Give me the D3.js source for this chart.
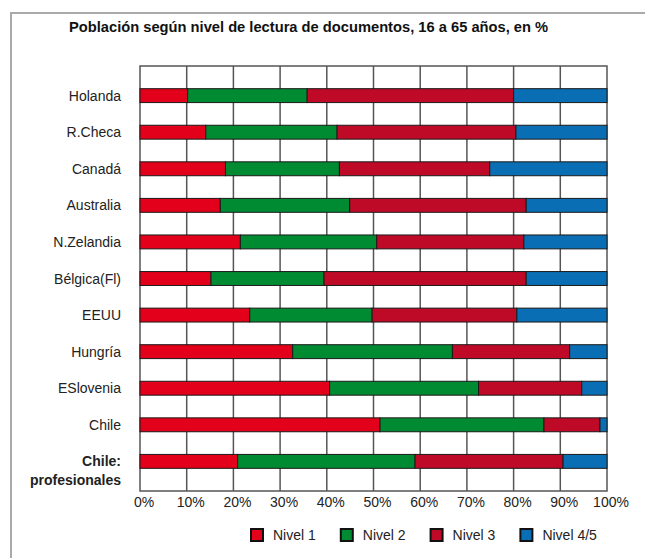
<!DOCTYPE html>
<html>
<head>
<meta charset="utf-8">
<script src="https://cdn.jsdelivr.net/npm/d3@7"></script>
<style>
  body { margin: 0; background: #fff; }
  text { font-family: "Liberation Sans", Arial, sans-serif; fill: #222; }
</style>
</head>
<body>
<div id="chart"></div>
<script>
var categories = ["Holanda", "R.Checa", "Canadá", "Australia", "N.Zelandia", "Bélgica(Fl)",
                  "EEUU", "Hungría", "ESlovenia", "Chile", "Chile:\nprofesionales"];
var nivel1  = [10.2, 14.1, 18.3, 17.2, 21.5, 15.2, 23.5, 32.7, 40.6, 51.4, 20.9];
var nivel2  = [25.6, 28.1, 24.4, 27.7, 29.2, 24.2, 26.2, 34.2, 31.9, 35.1, 38.0];
var nivel3  = [44.2, 38.3, 32.2, 37.8, 31.5, 43.3, 31.0, 25.1, 22.1, 12.0, 31.7];
var nivel45 = [20.0, 19.5, 25.1, 17.3, 17.8, 17.3, 19.3, 8.0, 5.4, 1.5, 9.4];
var levels = ["Nivel 1", "Nivel 2", "Nivel 3", "Nivel 4/5"];
var colors = ["#e2001a", "#008a32", "#be0a26", "#0a6eb4"];
var ticks = [0, 10, 20, 30, 40, 50, 60, 70, 80, 90, 100];

var width = 645, height = 558;
var rows = categories.map((c, i) => ({cat: c, "Nivel 1": nivel1[i], "Nivel 2": nivel2[i],
                                      "Nivel 3": nivel3[i], "Nivel 4/5": nivel45[i]}));
var series = d3.stack().keys(levels)(rows);

var svg = d3.select("#chart").append("svg")
    .attr("width", width)
    .attr("height", height);

// outer frame
svg.append("path")
    .attr("d", "M11,560 L11,13 L650,13")
    .attr("fill", "none")
    .attr("stroke", "#aaa")
    .attr("stroke-width", 2);

svg.append("text")
    .attr("x", 69).attr("y", 32)
    .style("font-size", "14.7px")
    .style("font-weight", "bold")
    .style("fill", "#111")
    .text("Población según nivel de lectura de documentos, 16 a 65 años, en %");

var x = d3.scaleLinear().domain([0, 100]).range([140, 607]);
var y = d3.scaleBand().domain(categories).range([66, 491]).padding(0.62);

// grid
svg.append("g")
    .attr("stroke", "#555")
    .attr("stroke-width", 1.5)
    .selectAll("line")
    .data(ticks.slice(1, -1))
    .join("line")
    .attr("x1", d => x(d)).attr("x2", d => x(d))
    .attr("y1", 66).attr("y2", 491);

svg.append("rect")
    .attr("x", x(0)).attr("y", 66)
    .attr("width", x(100) - x(0)).attr("height", 491 - 66)
    .attr("fill", "none")
    .attr("stroke", "#555")
    .attr("stroke-width", 1.5);

// bars
svg.append("g")
  .selectAll("g")
  .data(series)
  .join("g")
    .attr("fill", (d, i) => colors[i])
  .selectAll("rect")
  .data(d => d)
  .join("rect")
    .attr("x", d => x(d[0]))
    .attr("y", d => y(d.data.cat))
    .attr("width", d => x(d[1]) - x(d[0]))
    .attr("height", y.bandwidth())
    .attr("stroke", "#1a1a1a")
    .attr("stroke-width", 1);

// category labels
var lab = svg.append("g")
  .selectAll("text")
  .data(categories)
  .join("text")
    .attr("x", 121)
    .attr("y", d => y(d) + y.bandwidth() / 2 + 5)
    .attr("text-anchor", "end")
    .style("font-size", "14px")
    .style("font-weight", d => d.indexOf("\n") >= 0 ? "bold" : "normal");
lab.each(function(d) {
  var parts = d.split("\n");
  d3.select(this).selectAll("tspan")
    .data(parts)
    .join("tspan")
      .attr("x", 121)
      .attr("dy", (p, i) => i === 0 ? 0 : 19)
      .text(p => p);
});

// x tick labels
svg.append("g")
  .selectAll("text")
  .data(ticks)
  .join("text")
    .attr("x", d => x(d) + 4)
    .attr("y", 507)
    .attr("text-anchor", "middle")
    .style("font-size", "14px")
    .text(d => d + "%");

// legend
var lx = 250;
levels.forEach((l, i) => {
  var g = svg.append("g").attr("transform", `translate(${lx},528)`);
  g.append("rect")
    .attr("x", 1).attr("y", 1)
    .attr("width", 12).attr("height", 12)
    .attr("fill", colors[i])
    .attr("stroke", "#111")
    .attr("stroke-width", 2);
  var t = g.append("text")
    .attr("x", 23).attr("y", 12)
    .style("font-size", "14px")
    .text(l);
  lx += 23 + t.node().getComputedTextLength() + 24;
});
</script>
</body>
</html>
